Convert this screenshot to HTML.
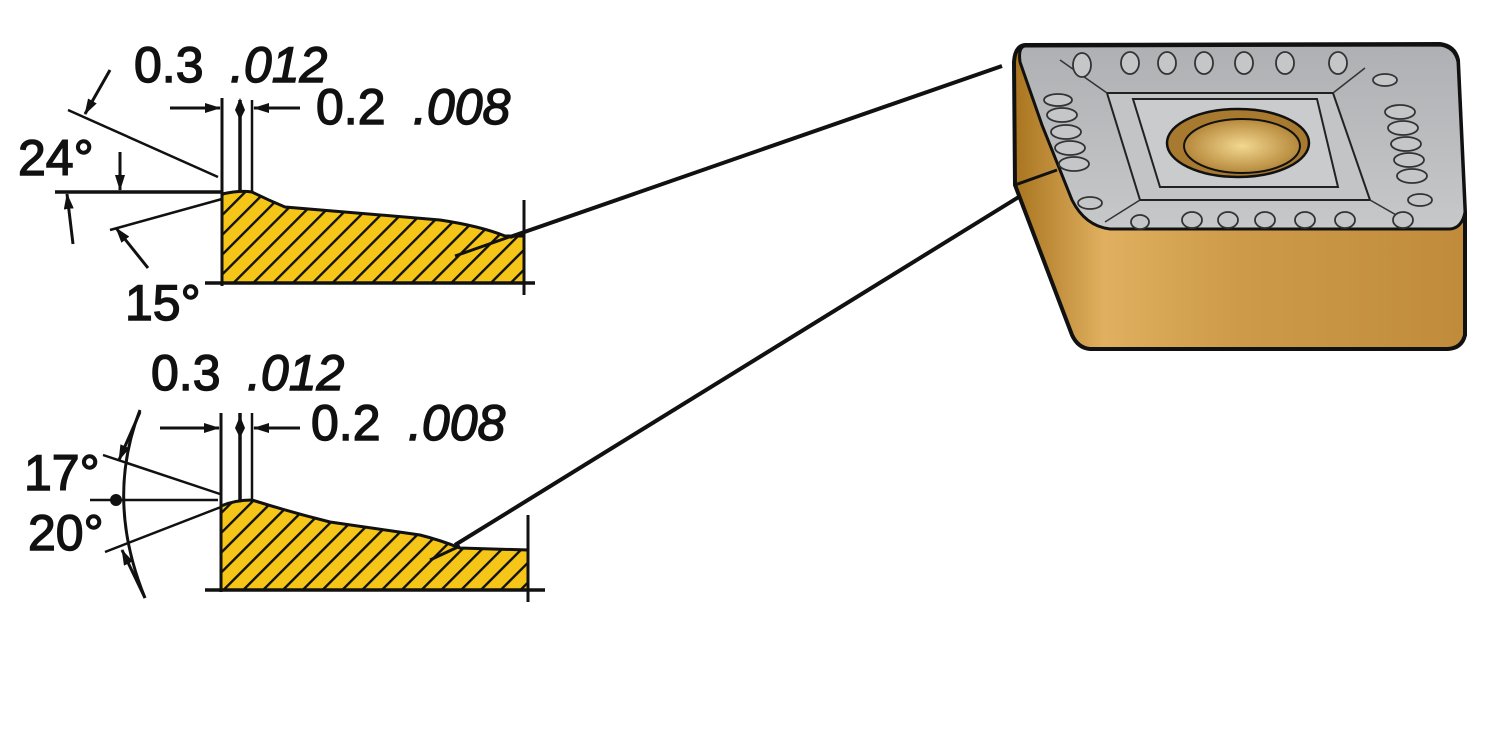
<!DOCTYPE html>
<html><head><meta charset="utf-8"><style>
html,body{margin:0;padding:0;background:#fff;}
svg{display:block;}
text{font-family:"Liberation Sans",sans-serif;font-size:50px;fill:#111;stroke:#111;stroke-width:1.4px;}
.i{font-style:italic;}
</style></head><body>
<svg width="1500" height="751" viewBox="0 0 1500 751" xmlns="http://www.w3.org/2000/svg">
<defs>
<pattern id="h" width="14" height="14" patternUnits="userSpaceOnUse" patternTransform="rotate(45)">
<rect width="14" height="14" fill="#f5c518"/>
<rect x="0" y="0" width="2.4" height="14" fill="#111"/>
</pattern>
<linearGradient id="gold" x1="0" x2="1" y1="0" y2="0">
<stop offset="0" stop-color="#a8741f"/><stop offset="0.2" stop-color="#e0b060"/><stop offset="0.5" stop-color="#cc9a48"/><stop offset="1" stop-color="#c08c3c"/>
</linearGradient>
<linearGradient id="grey" x1="0" x2="0" y1="0" y2="1">
<stop offset="0" stop-color="#aeb0b3"/><stop offset="1" stop-color="#c6c8ca"/>
</linearGradient>
<radialGradient id="hole" cx="0.5" cy="0.5" r="0.6">
<stop offset="0" stop-color="#f2d890"/><stop offset="1" stop-color="#a9782a"/>
</radialGradient>
<marker id="a" markerWidth="16" markerHeight="10" refX="15" refY="5" orient="auto" markerUnits="userSpaceOnUse"><path d="M0,0 L16,5 L0,10 Z" fill="#111"/></marker>
</defs>

<path d="M222,194 Q240,190 252,192 Q268,200 285,207 L440,220 Q480,226 505,236 L524,236 L524,283 L222,283 Z" fill="url(#h)" stroke="#111" stroke-width="3"/>
<line x1="222" y1="98" x2="222" y2="286" stroke="#111" stroke-width="3"/>
<line x1="240" y1="100" x2="240" y2="192" stroke="#111" stroke-width="3.5"/>
<line x1="252" y1="100" x2="252" y2="192" stroke="#111" stroke-width="2.5"/>
<path d="M240,98 L235,110 L240,120 L245,110 Z" fill="#111"/>
<line x1="205" y1="283" x2="535" y2="283" stroke="#111" stroke-width="3.5"/>
<line x1="524" y1="200" x2="524" y2="295" stroke="#111" stroke-width="3"/>
<line x1="55" y1="192" x2="222" y2="192" stroke="#111" stroke-width="3.5"/>
<line x1="68" y1="110" x2="218" y2="177" stroke="#111" stroke-width="2.5"/>
<line x1="110" y1="230" x2="222" y2="199" stroke="#111" stroke-width="2.5"/>
<line x1="170" y1="108" x2="220" y2="108" stroke="#111" stroke-width="3" marker-end="url(#a)"/>
<line x1="300" y1="108" x2="254" y2="108" stroke="#111" stroke-width="3" marker-end="url(#a)"/>
<line x1="110" y1="70" x2="85" y2="114" stroke="#111" stroke-width="3" marker-end="url(#a)"/>
<line x1="120" y1="152" x2="120" y2="190" stroke="#111" stroke-width="3" marker-end="url(#a)"/>
<line x1="73" y1="244" x2="67" y2="194" stroke="#111" stroke-width="3" marker-end="url(#a)"/>
<line x1="148" y1="268" x2="116" y2="228" stroke="#111" stroke-width="3" marker-end="url(#a)"/>
<line x1="455" y1="256" x2="512" y2="236" stroke="#111" stroke-width="3"/>
<line x1="510" y1="237" x2="1002" y2="66" stroke="#111" stroke-width="4"/>
<text x="134" y="82">0.3</text><text x="230" y="82" class="i">.012</text>
<text x="316" y="124">0.2</text><text x="413" y="124" class="i">.008</text>
<text x="18" y="175">24°</text>
<text x="125" y="320">15°</text>

<path d="M221,506 Q235,500 252,500 Q290,512 330,522 L420,535 Q440,540 460,548 L528,550 L528,590 L221,590 Z" fill="url(#h)" stroke="#111" stroke-width="3"/>
<line x1="221" y1="413" x2="221" y2="592" stroke="#111" stroke-width="3"/>
<line x1="240" y1="413" x2="240" y2="500" stroke="#111" stroke-width="3.5"/>
<line x1="252" y1="413" x2="252" y2="500" stroke="#111" stroke-width="2.5"/>
<path d="M240,416 L235,428 L240,438 L245,428 Z" fill="#111"/>
<line x1="205" y1="590" x2="545" y2="590" stroke="#111" stroke-width="3.5"/>
<line x1="528" y1="515" x2="528" y2="602" stroke="#111" stroke-width="3"/>
<line x1="90" y1="500" x2="218" y2="500" stroke="#111" stroke-width="2.5"/>
<line x1="103" y1="455" x2="220" y2="494" stroke="#111" stroke-width="2.5"/>
<line x1="105" y1="552" x2="221" y2="507" stroke="#111" stroke-width="2.5"/>
<path d="M140,410 Q105,500 145,598" fill="none" stroke="#111" stroke-width="3"/>
<circle cx="116" cy="500" r="6" fill="#111"/>
<line x1="140" y1="412" x2="119" y2="460" stroke="#111" stroke-width="3" marker-end="url(#a)"/>
<line x1="145" y1="598" x2="122" y2="550" stroke="#111" stroke-width="3" marker-end="url(#a)"/>
<line x1="160" y1="428" x2="219" y2="428" stroke="#111" stroke-width="3" marker-end="url(#a)"/>
<line x1="300" y1="428" x2="254" y2="428" stroke="#111" stroke-width="3" marker-end="url(#a)"/>
<line x1="430" y1="560" x2="460" y2="546" stroke="#111" stroke-width="3"/>
<line x1="455" y1="545" x2="1022" y2="195" stroke="#111" stroke-width="4"/>
<text x="151" y="390">0.3</text><text x="247" y="390" class="i">.012</text>
<text x="311" y="440">0.2</text><text x="408" y="440" class="i">.008</text>
<text x="24" y="490">17°</text>
<text x="28" y="550">20°</text>

<path d="M1025,45 L1440,44 Q1455,46 1458,60 L1465,212 L1465,335 Q1462,348 1448,349 L1090,349 Q1078,348 1072,335 L1015,185 L1014,62 Q1015,46 1025,45 Z" fill="url(#gold)" stroke="#111" stroke-width="4"/>
<path d="M1025,46 L1440,45 Q1455,47 1458,62 L1465,212 Q1462,228 1450,229 L1110,229 Q1085,226 1072,200 L1042,125 L1020,62 Q1018,47 1025,46 Z" fill="url(#grey)" stroke="#111" stroke-width="3"/>
<path d="M1057,170 L1015,185" stroke="#111" stroke-width="3"/>
<path d="M1107,93 L1333,93 L1370,200 L1140,200 Z" fill="#c2c4c6" stroke="#222" stroke-width="2"/>
<path d="M1133,99 L1317,99 L1338,187 L1160,187 Z" fill="#c9cbcd" stroke="#222" stroke-width="2"/>
<path d="M1107,93 L1060,60 M1333,93 L1365,68 M1370,200 L1405,220 M1140,200 L1105,222" stroke="#333" stroke-width="1.5"/>
<ellipse cx="1238" cy="143" rx="71" ry="34" fill="#a87a30" stroke="#111" stroke-width="2.5"/>
<ellipse cx="1242" cy="146" rx="58" ry="27" fill="url(#hole)" stroke="#111" stroke-width="2"/>
<g fill="#c4c6c8" stroke="#333" stroke-width="1.8">
<ellipse cx="1082" cy="65" rx="9" ry="12"/><ellipse cx="1130" cy="63" rx="9" ry="11"/><ellipse cx="1167" cy="63" rx="9" ry="11"/><ellipse cx="1204" cy="63" rx="9" ry="11"/><ellipse cx="1244" cy="63" rx="9" ry="11"/><ellipse cx="1285" cy="63" rx="9" ry="11"/><ellipse cx="1338" cy="63" rx="9" ry="11"/>
<ellipse cx="1140" cy="222" rx="9" ry="7"/><ellipse cx="1192" cy="220" rx="10" ry="8"/><ellipse cx="1228" cy="220" rx="10" ry="8"/><ellipse cx="1265" cy="220" rx="10" ry="8"/><ellipse cx="1305" cy="220" rx="10" ry="8"/><ellipse cx="1345" cy="220" rx="10" ry="8"/><ellipse cx="1403" cy="220" rx="10" ry="8"/>
<ellipse cx="1058" cy="100" rx="14" ry="6"/><ellipse cx="1062" cy="115" rx="15" ry="7"/><ellipse cx="1066" cy="132" rx="15" ry="7"/><ellipse cx="1070" cy="148" rx="15" ry="7"/><ellipse cx="1074" cy="164" rx="15" ry="7"/><ellipse cx="1090" cy="203" rx="12" ry="6"/>
<ellipse cx="1385" cy="80" rx="12" ry="6"/><ellipse cx="1400" cy="112" rx="15" ry="7"/><ellipse cx="1403" cy="128" rx="15" ry="7"/><ellipse cx="1406" cy="144" rx="15" ry="7"/><ellipse cx="1409" cy="160" rx="15" ry="7"/><ellipse cx="1412" cy="176" rx="15" ry="7"/><ellipse cx="1420" cy="200" rx="12" ry="6"/>
</g>
</svg>
</body></html>
